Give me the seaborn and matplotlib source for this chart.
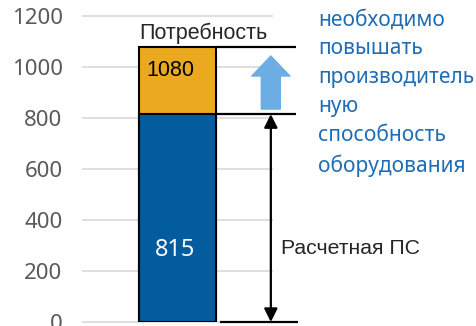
import seaborn as sns
import matplotlib.pyplot as plt

# Данные
categories = ["Потребность"]
demand = [1080]
capacity = [815]
yticks = [0, 200, 400, 600, 800, 1000, 1200]
note = "необходимо\nповышать\nпроизводитель\nную\nспособность\nоборудования"

sns.set_style("white")
plt.rcParams['font.family'] = ['Liberation Sans', 'DejaVu Sans']

fig = plt.figure(figsize=(4.77, 3.26), dpi=100)
ax = fig.add_axes([82 / 477, 4 / 326, 395 / 477, 306 / 326])

# Столбцы: сначала потребность, затем расчетная ПС поверх
sns.barplot(x=categories, y=demand, color='#EBA91F', saturation=1, width=0.8,
            edgecolor='black', linewidth=1.5, ax=ax, zorder=2)
sns.barplot(x=categories, y=capacity, color='#035C9E', saturation=1, width=0.8,
            edgecolor='black', linewidth=1.5, ax=ax, zorder=3)

ax.set_xlim(-0.992, 3.112)
ax.set_ylim(0, 1200)
ax.set_yticks(yticks)
ax.set_xticks([])
ax.set_xlabel('')
ax.tick_params(axis='y', length=0, pad=14, labelsize=16, labelcolor='#595959')
for lbl in ax.get_yticklabels():
    lbl.set_fontfamily('Noto Sans')
for s in ax.spines.values():
    s.set_visible(False)

# Сетка только под столбцом
ax.hlines(yticks, -0.99, 0.99, color='#D9D9D9', lw=1.2, zorder=0, clip_on=False)

# Подписи значений
ax.text(-0.32, demand[0] - 94, str(demand[0]), fontsize=15.5, color='black',
        va='center', ha='left', zorder=4)
ax.text(-0.03, capacity[0] * 0.345, str(capacity[0]), fontsize=17, color='white',
        va='center', ha='center', family='Noto Sans', zorder=4)

# Горизонтальные линии уровней
ax.hlines([demand[0], capacity[0]], 0.4, 1.23, color='black', lw=1.6, zorder=3)
ax.hlines([0], 0.44, 1.25, color='black', lw=1.6, zorder=3, clip_on=False)

# Двунаправленная стрелка
ax.annotate('', xy=(0.97, 0), xytext=(0.97, capacity[0]),
            arrowprops=dict(arrowstyle='<|-|>', color='black', lw=1.6,
                            mutation_scale=20, shrinkA=0, shrinkB=0), zorder=4)

# Голубая стрелка вверх
ax.annotate('', xy=(0.97, 1043), xytext=(0.97, 835),
            arrowprops=dict(arrowstyle='simple,head_width=2.74,head_length=1.44,tail_width=1.37',
                            color='#6CAEE4', mutation_scale=10, shrinkA=0, shrinkB=0), zorder=4)

# Текстовые подписи
ax.text(0.265, 1133, categories[0], fontsize=15.5, va='center', ha='center')
ax.text(1.075, 290, "Расчетная ПС", fontsize=15.3, va='center', ha='left')
ax.text(1.46, 1226, note, fontsize=15.1, color='#1F6DB4', va='top', ha='left',
        family='Noto Sans', linespacing=1.49)

fig.savefig('out.png', dpi=100)
